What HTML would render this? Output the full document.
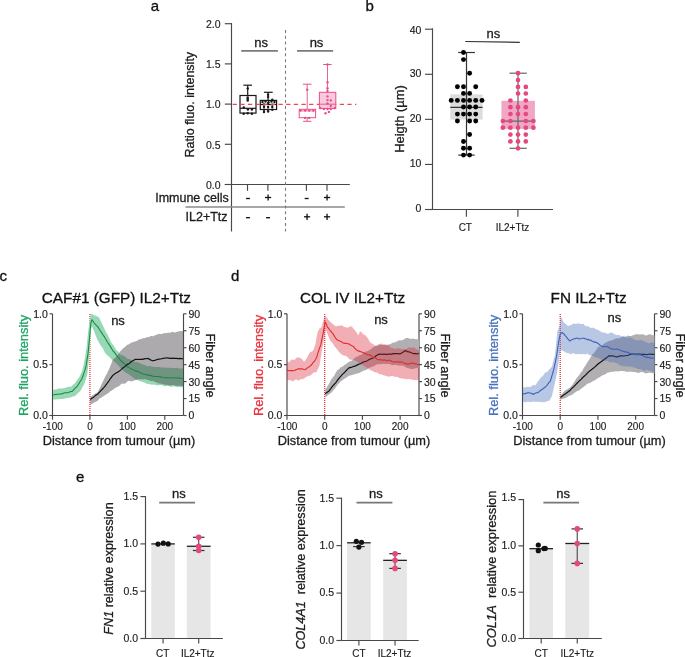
<!DOCTYPE html>
<html><head><meta charset="utf-8"><style>
html,body{margin:0;padding:0;background:#fff;overflow:hidden;}
svg{display:block;font-family:"Liberation Sans", sans-serif;will-change:transform;}
text{white-space:pre;}
</style></head><body>
<svg width="685" height="657" viewBox="0 0 685 657">
<rect width="685" height="657" fill="#fff"/>
<text x="150.80" y="10.80" font-size="15" text-anchor="start" fill="#111" stroke="#111" stroke-width="0.3" >a</text>
<text x="365.60" y="10.90" font-size="15" text-anchor="start" fill="#111" stroke="#111" stroke-width="0.3" >b</text>
<text x="-0.50" y="281.20" font-size="15" text-anchor="start" fill="#111" stroke="#111" stroke-width="0.3" >c</text>
<text x="231.00" y="281.20" font-size="15" text-anchor="start" fill="#111" stroke="#111" stroke-width="0.3" >d</text>
<text x="76.00" y="481.60" font-size="15" text-anchor="start" fill="#111" stroke="#111" stroke-width="0.3" >e</text>
<line x1="231.50" y1="23.00" x2="231.50" y2="231.50" stroke="#484848" stroke-width="1.15" />
<line x1="224.80" y1="23.70" x2="231.50" y2="23.70" stroke="#484848" stroke-width="1.15" />
<text x="220.60" y="28.00" font-size="10.5" text-anchor="end" fill="#1c1c1c" stroke="#1c1c1c" stroke-width="0.15" >2.0</text>
<line x1="224.80" y1="63.90" x2="231.50" y2="63.90" stroke="#484848" stroke-width="1.15" />
<text x="220.60" y="68.20" font-size="10.5" text-anchor="end" fill="#1c1c1c" stroke="#1c1c1c" stroke-width="0.15" >1.5</text>
<line x1="224.80" y1="104.10" x2="231.50" y2="104.10" stroke="#484848" stroke-width="1.15" />
<text x="220.60" y="108.40" font-size="10.5" text-anchor="end" fill="#1c1c1c" stroke="#1c1c1c" stroke-width="0.15" >1.0</text>
<line x1="224.80" y1="144.30" x2="231.50" y2="144.30" stroke="#484848" stroke-width="1.15" />
<text x="220.60" y="148.60" font-size="10.5" text-anchor="end" fill="#1c1c1c" stroke="#1c1c1c" stroke-width="0.15" >0.5</text>
<line x1="224.80" y1="184.50" x2="231.50" y2="184.50" stroke="#484848" stroke-width="1.15" />
<text x="220.60" y="188.80" font-size="10.5" text-anchor="end" fill="#1c1c1c" stroke="#1c1c1c" stroke-width="0.15" >0.0</text>
<text x="194.20" y="104.70" font-size="12.5" text-anchor="middle" fill="#1c1c1c" stroke="#1c1c1c" stroke-width="0.3" transform="rotate(-90 194.2 104.7)" >Ratio fluo. intensity</text>
<line x1="224.80" y1="184.50" x2="349.80" y2="184.50" stroke="#484848" stroke-width="1.15" />
<line x1="247.50" y1="184.50" x2="247.50" y2="190.80" stroke="#484848" stroke-width="1.15" />
<line x1="267.90" y1="184.50" x2="267.90" y2="190.80" stroke="#484848" stroke-width="1.15" />
<line x1="306.40" y1="184.50" x2="306.40" y2="190.80" stroke="#484848" stroke-width="1.15" />
<line x1="327.00" y1="184.50" x2="327.00" y2="190.80" stroke="#484848" stroke-width="1.15" />
<line x1="185.50" y1="207.00" x2="344.80" y2="207.00" stroke="#8a8a8a" stroke-width="1.7" />
<text x="228.80" y="202.00" font-size="12.5" text-anchor="end" fill="#1c1c1c" stroke="#1c1c1c" stroke-width="0.3" >Immune cells</text>
<text x="227.60" y="220.50" font-size="12.5" text-anchor="end" fill="#1c1c1c" stroke="#1c1c1c" stroke-width="0.3" >IL2+Ttz</text>
<line x1="246.05" y1="198.50" x2="249.95" y2="198.50" stroke="#111" stroke-width="1.35" />
<line x1="265.00" y1="197.50" x2="271.20" y2="197.50" stroke="#111" stroke-width="1.3" />
<line x1="268.10" y1="194.40" x2="268.10" y2="200.60" stroke="#111" stroke-width="1.3" />
<line x1="304.70" y1="198.50" x2="308.60" y2="198.50" stroke="#111" stroke-width="1.35" />
<line x1="323.95" y1="197.50" x2="330.15" y2="197.50" stroke="#111" stroke-width="1.3" />
<line x1="327.05" y1="194.40" x2="327.05" y2="200.60" stroke="#111" stroke-width="1.3" />
<line x1="246.05" y1="217.70" x2="249.95" y2="217.70" stroke="#111" stroke-width="1.35" />
<line x1="266.10" y1="217.70" x2="270.00" y2="217.70" stroke="#111" stroke-width="1.35" />
<line x1="303.95" y1="216.80" x2="310.15" y2="216.80" stroke="#111" stroke-width="1.3" />
<line x1="307.05" y1="213.70" x2="307.05" y2="219.90" stroke="#111" stroke-width="1.3" />
<line x1="323.95" y1="216.80" x2="330.15" y2="216.80" stroke="#111" stroke-width="1.3" />
<line x1="327.05" y1="213.70" x2="327.05" y2="219.90" stroke="#111" stroke-width="1.3" />
<line x1="285.50" y1="29.90" x2="285.50" y2="231.50" stroke="#7a7a7a" stroke-width="1.1" stroke-dasharray="3 2.85"/>
<text x="261.10" y="46.90" font-size="13" text-anchor="middle" fill="#1c1c1c" stroke="#1c1c1c" stroke-width="0.3" >ns</text>
<text x="316.50" y="46.90" font-size="13" text-anchor="middle" fill="#1c1c1c" stroke="#1c1c1c" stroke-width="0.3" >ns</text>
<line x1="241.20" y1="50.80" x2="277.90" y2="50.80" stroke="#7a7a7a" stroke-width="1.8" />
<line x1="297.00" y1="50.80" x2="333.10" y2="50.80" stroke="#7a7a7a" stroke-width="1.8" />
<line x1="247.70" y1="85.20" x2="247.70" y2="95.50" stroke="#1a1a1a" stroke-width="1.2" />
<line x1="243.40" y1="85.20" x2="252.00" y2="85.20" stroke="#1a1a1a" stroke-width="1.2" />
<rect x="240.00" y="95.50" width="16.00" height="17.60" fill="none" stroke="#1a1a1a" stroke-width="1.2" />
<line x1="240.00" y1="108.30" x2="256.00" y2="108.30" stroke="#1a1a1a" stroke-width="1.2" />
<circle cx="247.70" cy="88.40" r="1.25" fill="#1a1a1a"/>
<circle cx="247.70" cy="97.40" r="1.25" fill="#1a1a1a"/>
<circle cx="247.70" cy="98.90" r="1.25" fill="#1a1a1a"/>
<circle cx="247.70" cy="100.60" r="1.25" fill="#1a1a1a"/>
<circle cx="243.80" cy="107.40" r="1.25" fill="#1a1a1a"/>
<circle cx="247.90" cy="109.40" r="1.25" fill="#1a1a1a"/>
<circle cx="251.90" cy="109.40" r="1.25" fill="#1a1a1a"/>
<circle cx="243.70" cy="113.80" r="1.25" fill="#1a1a1a"/>
<circle cx="247.70" cy="113.30" r="1.25" fill="#1a1a1a"/>
<circle cx="251.90" cy="113.80" r="1.25" fill="#1a1a1a"/>
<line x1="268.10" y1="92.30" x2="268.10" y2="100.40" stroke="#1a1a1a" stroke-width="1.2" />
<line x1="263.90" y1="92.30" x2="272.70" y2="92.30" stroke="#1a1a1a" stroke-width="1.2" />
<rect x="260.30" y="100.40" width="16.30" height="9.10" fill="none" stroke="#1a1a1a" stroke-width="1.2" />
<line x1="260.30" y1="104.50" x2="276.60" y2="104.50" stroke="#1a1a1a" stroke-width="1.2" />
<circle cx="268.10" cy="94.80" r="1.2" fill="#1a1a1a"/>
<circle cx="268.10" cy="97.10" r="1.2" fill="#1a1a1a"/>
<circle cx="272.30" cy="99.70" r="1.2" fill="#1a1a1a"/>
<circle cx="262.50" cy="102.00" r="1.2" fill="#1a1a1a"/>
<circle cx="265.50" cy="101.60" r="1.2" fill="#1a1a1a"/>
<circle cx="268.50" cy="102.30" r="1.2" fill="#1a1a1a"/>
<circle cx="271.50" cy="101.60" r="1.2" fill="#1a1a1a"/>
<circle cx="274.50" cy="102.00" r="1.2" fill="#1a1a1a"/>
<circle cx="264.00" cy="104.50" r="1.2" fill="#1a1a1a"/>
<circle cx="268.10" cy="104.00" r="1.2" fill="#1a1a1a"/>
<circle cx="272.30" cy="104.60" r="1.2" fill="#1a1a1a"/>
<circle cx="264.00" cy="107.00" r="1.2" fill="#1a1a1a"/>
<circle cx="268.10" cy="107.00" r="1.2" fill="#1a1a1a"/>
<circle cx="272.30" cy="107.00" r="1.2" fill="#1a1a1a"/>
<circle cx="264.00" cy="109.80" r="1.2" fill="#1a1a1a"/>
<circle cx="268.10" cy="109.80" r="1.2" fill="#1a1a1a"/>
<circle cx="272.30" cy="109.80" r="1.2" fill="#1a1a1a"/>
<circle cx="264.00" cy="112.00" r="1.2" fill="#1a1a1a"/>
<circle cx="268.10" cy="111.60" r="1.2" fill="#1a1a1a"/>
<line x1="232.60" y1="104.30" x2="356.30" y2="104.30" stroke="#ec4a5a" stroke-width="1.25" stroke-dasharray="4.3 3.35"/>
<line x1="307.20" y1="84.20" x2="307.20" y2="109.30" stroke="#e8508a" stroke-width="0.9" />
<line x1="302.90" y1="84.20" x2="311.50" y2="84.20" stroke="#e8508a" stroke-width="1.0" />
<line x1="307.20" y1="117.70" x2="307.20" y2="121.30" stroke="#e8508a" stroke-width="0.9" />
<line x1="303.10" y1="121.30" x2="311.30" y2="121.30" stroke="#e8508a" stroke-width="1.0" />
<rect x="299.20" y="109.30" width="16.40" height="8.40" fill="none" stroke="#e8508a" stroke-width="1.0" />
<line x1="299.20" y1="110.90" x2="315.60" y2="110.90" stroke="#e8508a" stroke-width="0.8" />
<circle cx="307.20" cy="89.70" r="1.2" fill="#e8508a"/>
<circle cx="300.50" cy="110.60" r="1.2" fill="#e8508a"/>
<circle cx="305.10" cy="110.60" r="1.2" fill="#e8508a"/>
<circle cx="309.20" cy="110.60" r="1.2" fill="#e8508a"/>
<circle cx="313.30" cy="110.60" r="1.2" fill="#e8508a"/>
<circle cx="305.10" cy="117.90" r="1.2" fill="#e8508a"/>
<circle cx="309.20" cy="117.90" r="1.2" fill="#e8508a"/>
<rect x="319.40" y="92.30" width="16.40" height="16.20" fill="#f9cadd" stroke="#e8508a" stroke-width="1.0" />
<line x1="327.50" y1="64.50" x2="327.50" y2="92.30" stroke="#e8508a" stroke-width="0.9" />
<line x1="323.20" y1="64.50" x2="331.60" y2="64.50" stroke="#e8508a" stroke-width="1.0" />
<line x1="319.40" y1="104.20" x2="335.80" y2="104.20" stroke="#e8508a" stroke-width="0.9" />
<circle cx="327.50" cy="64.50" r="1.2" fill="#e8508a"/>
<circle cx="327.50" cy="82.30" r="1.2" fill="#e8508a"/>
<circle cx="327.50" cy="88.20" r="1.2" fill="#e8508a"/>
<circle cx="327.50" cy="90.90" r="1.2" fill="#e8508a"/>
<circle cx="327.50" cy="96.40" r="1.2" fill="#e8508a"/>
<circle cx="327.50" cy="100.10" r="1.2" fill="#e8508a"/>
<circle cx="330.80" cy="100.40" r="1.2" fill="#e8508a"/>
<circle cx="327.50" cy="103.50" r="1.2" fill="#e8508a"/>
<circle cx="330.80" cy="106.00" r="1.2" fill="#e8508a"/>
<circle cx="320.20" cy="108.00" r="1.2" fill="#e8508a"/>
<circle cx="323.90" cy="109.00" r="1.2" fill="#e8508a"/>
<circle cx="327.50" cy="109.00" r="1.2" fill="#e8508a"/>
<circle cx="330.80" cy="109.00" r="1.2" fill="#e8508a"/>
<circle cx="334.80" cy="108.00" r="1.2" fill="#e8508a"/>
<circle cx="325.50" cy="113.20" r="1.2" fill="#e8508a"/>
<circle cx="328.90" cy="111.90" r="1.2" fill="#e8508a"/>
<line x1="432.50" y1="28.30" x2="432.50" y2="209.50" stroke="#484848" stroke-width="1.15" />
<line x1="425.00" y1="29.20" x2="432.50" y2="29.20" stroke="#484848" stroke-width="1.15" />
<text x="421.40" y="33.60" font-size="10.5" text-anchor="end" fill="#1c1c1c" stroke="#1c1c1c" stroke-width="0.15" >40</text>
<line x1="425.00" y1="74.27" x2="432.50" y2="74.27" stroke="#484848" stroke-width="1.15" />
<text x="421.40" y="77.00" font-size="10.5" text-anchor="end" fill="#1c1c1c" stroke="#1c1c1c" stroke-width="0.15" >30</text>
<line x1="425.00" y1="119.35" x2="432.50" y2="119.35" stroke="#484848" stroke-width="1.15" />
<text x="421.40" y="121.80" font-size="10.5" text-anchor="end" fill="#1c1c1c" stroke="#1c1c1c" stroke-width="0.15" >20</text>
<line x1="425.00" y1="164.43" x2="432.50" y2="164.43" stroke="#484848" stroke-width="1.15" />
<text x="421.40" y="167.20" font-size="10.5" text-anchor="end" fill="#1c1c1c" stroke="#1c1c1c" stroke-width="0.15" >10</text>
<line x1="425.00" y1="209.50" x2="432.50" y2="209.50" stroke="#484848" stroke-width="1.15" />
<text x="421.40" y="212.20" font-size="10.5" text-anchor="end" fill="#1c1c1c" stroke="#1c1c1c" stroke-width="0.15" >0</text>
<line x1="425.00" y1="209.50" x2="553.00" y2="209.50" stroke="#484848" stroke-width="1.15" />
<line x1="466.40" y1="209.50" x2="466.40" y2="216.80" stroke="#484848" stroke-width="1.15" />
<line x1="517.90" y1="209.50" x2="517.90" y2="216.80" stroke="#484848" stroke-width="1.15" />
<text x="465.30" y="230.70" font-size="10" text-anchor="middle" fill="#1c1c1c" stroke="#1c1c1c" stroke-width="0.15" >CT</text>
<text x="512.50" y="230.70" font-size="10" text-anchor="middle" fill="#1c1c1c" stroke="#1c1c1c" stroke-width="0.15" >IL2+Ttz</text>
<text x="403.70" y="119.00" font-size="12.9" text-anchor="middle" fill="#1c1c1c" stroke="#1c1c1c" stroke-width="0.3" transform="rotate(-90 403.7 119.0)" >Heigth (µm)</text>
<text x="493.30" y="37.50" font-size="13" text-anchor="middle" fill="#1c1c1c" stroke="#1c1c1c" stroke-width="0.3" >ns</text>
<line x1="465.30" y1="41.50" x2="519.80" y2="42.30" stroke="#333" stroke-width="1.2" />
<rect x="450.30" y="94.40" width="32.30" height="25.20" fill="#dcdcdc" stroke="none" stroke-width="1.2" />
<line x1="466.50" y1="52.50" x2="466.50" y2="155.10" stroke="#333" stroke-width="1.2" />
<line x1="458.20" y1="52.50" x2="474.90" y2="52.50" stroke="#333" stroke-width="1.2" />
<line x1="458.30" y1="155.10" x2="474.70" y2="155.10" stroke="#333" stroke-width="1.2" />
<line x1="450.30" y1="107.30" x2="482.60" y2="107.30" stroke="#333" stroke-width="1.3" />
<circle cx="463.50" cy="52.50" r="2.45" fill="#000"/>
<circle cx="463.50" cy="59.60" r="2.45" fill="#000"/>
<circle cx="469.60" cy="73.20" r="2.45" fill="#000"/>
<circle cx="457.40" cy="86.70" r="2.45" fill="#000"/>
<circle cx="463.50" cy="86.70" r="2.45" fill="#000"/>
<circle cx="475.70" cy="86.70" r="2.45" fill="#000"/>
<circle cx="463.50" cy="93.40" r="2.45" fill="#000"/>
<circle cx="469.60" cy="93.40" r="2.45" fill="#000"/>
<circle cx="451.20" cy="100.40" r="2.45" fill="#000"/>
<circle cx="457.40" cy="100.40" r="2.45" fill="#000"/>
<circle cx="463.50" cy="100.40" r="2.45" fill="#000"/>
<circle cx="469.60" cy="100.40" r="2.45" fill="#000"/>
<circle cx="475.70" cy="100.40" r="2.45" fill="#000"/>
<circle cx="482.00" cy="100.40" r="2.45" fill="#000"/>
<circle cx="463.50" cy="107.00" r="2.45" fill="#000"/>
<circle cx="469.60" cy="107.00" r="2.45" fill="#000"/>
<circle cx="475.70" cy="107.00" r="2.45" fill="#000"/>
<circle cx="457.40" cy="114.10" r="2.45" fill="#000"/>
<circle cx="463.50" cy="114.10" r="2.45" fill="#000"/>
<circle cx="469.60" cy="114.10" r="2.45" fill="#000"/>
<circle cx="475.70" cy="114.10" r="2.45" fill="#000"/>
<circle cx="457.40" cy="121.00" r="2.45" fill="#000"/>
<circle cx="469.60" cy="121.00" r="2.45" fill="#000"/>
<circle cx="475.70" cy="121.00" r="2.45" fill="#000"/>
<circle cx="469.60" cy="134.50" r="2.45" fill="#000"/>
<circle cx="463.50" cy="141.50" r="2.45" fill="#000"/>
<circle cx="463.50" cy="148.20" r="2.45" fill="#000"/>
<circle cx="469.60" cy="148.20" r="2.45" fill="#000"/>
<circle cx="463.50" cy="155.10" r="2.45" fill="#000"/>
<circle cx="469.60" cy="155.10" r="2.45" fill="#000"/>
<rect x="501.40" y="100.80" width="33.50" height="28.10" fill="#f0a6c4" stroke="none" stroke-width="1.2" />
<line x1="518.00" y1="73.20" x2="518.00" y2="148.30" stroke="#666" stroke-width="1.2" />
<line x1="509.50" y1="73.20" x2="526.80" y2="73.20" stroke="#666" stroke-width="1.2" />
<line x1="509.50" y1="148.30" x2="526.80" y2="148.30" stroke="#666" stroke-width="1.2" />
<line x1="501.40" y1="121.20" x2="534.90" y2="121.20" stroke="#666" stroke-width="1.3" />
<circle cx="518.00" cy="73.20" r="2.35" fill="#e5487f"/>
<circle cx="518.00" cy="80.10" r="2.35" fill="#e5487f"/>
<circle cx="518.00" cy="86.90" r="2.35" fill="#e5487f"/>
<circle cx="525.80" cy="86.90" r="2.35" fill="#e5487f"/>
<circle cx="518.00" cy="93.50" r="2.35" fill="#e5487f"/>
<circle cx="525.80" cy="93.50" r="2.35" fill="#e5487f"/>
<circle cx="510.40" cy="100.50" r="2.35" fill="#e5487f"/>
<circle cx="525.80" cy="100.50" r="2.35" fill="#e5487f"/>
<circle cx="510.40" cy="107.20" r="2.35" fill="#e5487f"/>
<circle cx="518.00" cy="107.20" r="2.35" fill="#e5487f"/>
<circle cx="525.80" cy="107.20" r="2.35" fill="#e5487f"/>
<circle cx="510.40" cy="114.00" r="2.35" fill="#e5487f"/>
<circle cx="518.00" cy="114.00" r="2.35" fill="#e5487f"/>
<circle cx="525.80" cy="114.00" r="2.35" fill="#e5487f"/>
<circle cx="502.90" cy="121.00" r="2.35" fill="#e5487f"/>
<circle cx="510.40" cy="121.00" r="2.35" fill="#e5487f"/>
<circle cx="525.80" cy="121.00" r="2.35" fill="#e5487f"/>
<circle cx="533.40" cy="121.00" r="2.35" fill="#e5487f"/>
<circle cx="502.90" cy="127.70" r="2.35" fill="#e5487f"/>
<circle cx="510.40" cy="127.70" r="2.35" fill="#e5487f"/>
<circle cx="518.00" cy="127.70" r="2.35" fill="#e5487f"/>
<circle cx="525.80" cy="127.70" r="2.35" fill="#e5487f"/>
<circle cx="533.40" cy="127.70" r="2.35" fill="#e5487f"/>
<circle cx="510.40" cy="134.60" r="2.35" fill="#e5487f"/>
<circle cx="518.00" cy="134.60" r="2.35" fill="#e5487f"/>
<circle cx="525.80" cy="134.60" r="2.35" fill="#e5487f"/>
<circle cx="510.40" cy="141.40" r="2.35" fill="#e5487f"/>
<circle cx="518.00" cy="141.40" r="2.35" fill="#e5487f"/>
<circle cx="525.80" cy="141.40" r="2.35" fill="#e5487f"/>
<circle cx="518.00" cy="148.30" r="2.35" fill="#e5487f"/>
<text x="116.40" y="303.10" font-size="15.3" text-anchor="middle" fill="#111" stroke="#111" stroke-width="0.3" >CAF#1 (GFP) IL2+Ttz</text>
<line x1="52.50" y1="313.80" x2="52.50" y2="415.50" stroke="#484848" stroke-width="1.15" />
<line x1="183.50" y1="313.80" x2="183.50" y2="415.50" stroke="#484848" stroke-width="1.15" />
<line x1="49.50" y1="415.50" x2="183.50" y2="415.50" stroke="#484848" stroke-width="1.15" />
<line x1="49.50" y1="313.80" x2="52.50" y2="313.80" stroke="#484848" stroke-width="1.15" />
<text x="47.90" y="317.50" font-size="10.5" text-anchor="end" fill="#1c1c1c" stroke="#1c1c1c" stroke-width="0.15" >1.0</text>
<line x1="49.50" y1="364.65" x2="52.50" y2="364.65" stroke="#484848" stroke-width="1.15" />
<text x="47.90" y="368.35" font-size="10.5" text-anchor="end" fill="#1c1c1c" stroke="#1c1c1c" stroke-width="0.15" >0.5</text>
<line x1="49.50" y1="415.50" x2="52.50" y2="415.50" stroke="#484848" stroke-width="1.15" />
<text x="47.90" y="419.20" font-size="10.5" text-anchor="end" fill="#1c1c1c" stroke="#1c1c1c" stroke-width="0.15" >0.0</text>
<line x1="183.50" y1="415.50" x2="186.50" y2="415.50" stroke="#484848" stroke-width="1.15" />
<text x="188.40" y="419.40" font-size="10.5" text-anchor="start" fill="#1c1c1c" stroke="#1c1c1c" stroke-width="0.15" >0</text>
<line x1="183.50" y1="398.55" x2="186.50" y2="398.55" stroke="#484848" stroke-width="1.15" />
<text x="188.40" y="402.45" font-size="10.5" text-anchor="start" fill="#1c1c1c" stroke="#1c1c1c" stroke-width="0.15" >15</text>
<line x1="183.50" y1="381.60" x2="186.50" y2="381.60" stroke="#484848" stroke-width="1.15" />
<text x="188.40" y="385.50" font-size="10.5" text-anchor="start" fill="#1c1c1c" stroke="#1c1c1c" stroke-width="0.15" >30</text>
<line x1="183.50" y1="364.65" x2="186.50" y2="364.65" stroke="#484848" stroke-width="1.15" />
<text x="188.40" y="368.55" font-size="10.5" text-anchor="start" fill="#1c1c1c" stroke="#1c1c1c" stroke-width="0.15" >45</text>
<line x1="183.50" y1="347.70" x2="186.50" y2="347.70" stroke="#484848" stroke-width="1.15" />
<text x="188.40" y="351.60" font-size="10.5" text-anchor="start" fill="#1c1c1c" stroke="#1c1c1c" stroke-width="0.15" >60</text>
<line x1="183.50" y1="330.75" x2="186.50" y2="330.75" stroke="#484848" stroke-width="1.15" />
<text x="188.40" y="334.65" font-size="10.5" text-anchor="start" fill="#1c1c1c" stroke="#1c1c1c" stroke-width="0.15" >75</text>
<line x1="183.50" y1="313.80" x2="186.50" y2="313.80" stroke="#484848" stroke-width="1.15" />
<text x="188.40" y="317.70" font-size="10.5" text-anchor="start" fill="#1c1c1c" stroke="#1c1c1c" stroke-width="0.15" >90</text>
<line x1="52.50" y1="415.50" x2="52.50" y2="419.70" stroke="#484848" stroke-width="1.15" />
<text x="52.80" y="429.60" font-size="10" text-anchor="middle" fill="#1c1c1c" stroke="#1c1c1c" stroke-width="0.15" >-100</text>
<line x1="89.93" y1="415.50" x2="89.93" y2="419.70" stroke="#484848" stroke-width="1.15" />
<text x="89.93" y="429.60" font-size="10" text-anchor="middle" fill="#1c1c1c" stroke="#1c1c1c" stroke-width="0.15" >0</text>
<line x1="127.36" y1="415.50" x2="127.36" y2="419.70" stroke="#484848" stroke-width="1.15" />
<text x="127.36" y="429.60" font-size="10" text-anchor="middle" fill="#1c1c1c" stroke="#1c1c1c" stroke-width="0.15" >100</text>
<line x1="164.79" y1="415.50" x2="164.79" y2="419.70" stroke="#484848" stroke-width="1.15" />
<text x="164.79" y="429.60" font-size="10" text-anchor="middle" fill="#1c1c1c" stroke="#1c1c1c" stroke-width="0.15" >200</text>
<text x="119.00" y="445.20" font-size="12.8" text-anchor="middle" fill="#1c1c1c" stroke="#1c1c1c" stroke-width="0.3" >Distance from tumour (µm)</text>
<text x="28.50" y="365.40" font-size="12.85" text-anchor="middle" fill="#1fa463" stroke="#1fa463" stroke-width="0.3" transform="rotate(-90 28.5 365.4)" >Rel. fluo. intensity</text>
<text x="205.60" y="365.55" font-size="12.8" text-anchor="middle" fill="#1c1c1c" stroke="#1c1c1c" stroke-width="0.3" transform="rotate(90 205.6 365.55)" >Fiber angle</text>
<line x1="89.93" y1="314.00" x2="89.93" y2="415.50" stroke="#ee1c28" stroke-width="1.15" stroke-dasharray="1 1"/>
<path d="M53.00,389.90 L54.02,389.54 L55.04,389.58 L56.07,389.45 L57.09,389.12 L58.11,388.63 L59.13,388.58 L60.16,388.52 L61.18,388.47 L62.20,388.39 L63.21,388.25 L64.22,388.33 L65.23,387.79 L66.24,387.63 L67.26,386.99 L68.27,386.83 L69.28,386.70 L70.29,386.64 L71.30,386.45 L72.25,385.59 L73.20,384.59 L74.15,383.85 L75.10,383.05 L76.05,381.83 L77.00,380.08 L77.95,378.88 L78.90,377.63 L79.93,375.74 L80.97,373.48 L82.00,371.35 L83.10,366.91 L84.20,362.09 L85.35,355.24 L86.50,348.08 L87.25,340.77 L88.00,333.22 L89.30,322.43 L90.30,315.89 L91.10,314.37 L91.90,313.70 L92.93,314.41 L93.96,315.18 L94.99,315.35 L96.01,315.94 L97.04,316.35 L98.07,316.92 L99.10,317.50 L100.12,319.64 L101.13,321.98 L102.15,324.07 L103.17,326.29 L104.18,328.30 L105.20,330.50 L106.22,332.39 L107.23,334.05 L108.25,336.01 L109.27,338.20 L110.28,340.64 L111.30,342.51 L112.36,344.04 L113.42,345.32 L114.48,347.12 L115.54,348.70 L116.60,350.40 L117.57,350.96 L118.55,352.09 L119.53,353.45 L120.50,354.44 L121.44,354.97 L122.38,355.22 L123.31,355.81 L124.25,356.10 L125.19,356.86 L126.12,357.81 L127.06,358.24 L128.00,358.72 L128.96,358.65 L129.93,359.41 L130.89,359.64 L131.85,360.49 L132.81,361.02 L133.77,361.50 L134.74,361.95 L135.70,361.97 L136.65,362.11 L137.60,362.27 L138.55,362.49 L139.50,362.93 L140.45,363.20 L141.40,363.89 L142.35,364.25 L143.30,364.42 L144.25,364.75 L145.20,365.02 L146.15,365.71 L147.10,365.92 L148.05,366.14 L149.00,366.05 L149.95,366.03 L150.90,366.37 L151.85,366.54 L152.80,366.66 L153.75,366.75 L154.70,367.04 L155.65,367.11 L156.60,367.11 L157.55,367.09 L158.50,367.04 L159.45,367.07 L160.40,367.31 L161.35,367.56 L162.30,367.80 L163.25,367.37 L164.20,367.41 L165.15,367.53 L166.10,367.63 L167.05,367.74 L168.00,367.77 L168.95,367.79 L169.90,367.80 L170.85,367.71 L171.80,368.05 L172.75,367.90 L173.70,368.03 L174.73,368.14 L175.77,368.04 L176.80,367.76 L177.83,367.80 L178.87,368.40 L179.90,368.58 L180.93,368.54 L181.97,368.41 L183.00,368.60 L183.00,387.60 L181.97,387.34 L180.93,386.98 L179.90,386.91 L178.87,387.12 L177.83,387.29 L176.80,387.08 L175.77,386.79 L174.73,386.52 L173.70,386.57 L172.75,386.61 L171.80,386.75 L170.85,386.65 L169.90,386.40 L168.95,386.12 L168.00,386.10 L167.05,385.88 L166.10,386.07 L165.15,386.23 L164.20,386.14 L163.25,385.66 L162.30,385.12 L161.35,385.03 L160.40,384.88 L159.45,385.13 L158.50,385.27 L157.55,385.39 L156.60,385.16 L155.65,384.95 L154.70,384.77 L153.75,384.42 L152.80,384.63 L151.85,384.72 L150.90,384.60 L149.95,384.29 L149.00,384.10 L148.05,384.30 L147.10,383.99 L146.15,383.37 L145.20,383.02 L144.25,382.60 L143.30,382.33 L142.35,381.70 L141.40,381.46 L140.45,381.23 L139.50,381.13 L138.55,380.47 L137.60,380.03 L136.65,379.52 L135.70,379.51 L134.74,378.88 L133.77,378.18 L132.81,377.37 L131.85,376.64 L130.89,375.79 L129.93,375.17 L128.96,374.36 L128.00,373.91 L127.06,373.23 L126.12,372.94 L125.19,372.36 L124.25,371.49 L123.31,370.73 L122.38,369.50 L121.44,368.80 L120.50,367.71 L119.54,367.04 L118.58,365.68 L117.61,364.69 L116.65,363.59 L115.69,362.75 L114.72,361.94 L113.76,361.15 L112.80,360.48 L111.85,359.65 L110.90,358.46 L109.95,357.56 L109.00,356.72 L108.05,355.88 L107.10,354.96 L106.15,353.98 L105.20,353.30 L104.25,351.26 L103.30,349.36 L102.35,347.84 L101.40,346.54 L100.45,345.17 L99.50,343.39 L98.55,341.84 L97.60,340.25 L96.65,338.04 L95.70,335.59 L94.75,333.10 L93.80,330.44 L92.85,328.30 L91.90,326.16 L91.10,328.70 L90.30,340.52 L89.30,355.58 L88.30,364.69 L87.30,374.07 L86.27,377.65 L85.23,381.05 L84.20,384.25 L83.25,385.79 L82.30,387.28 L81.35,389.21 L80.40,390.96 L79.28,392.02 L78.15,392.77 L77.03,394.00 L75.90,395.18 L74.98,395.99 L74.06,396.18 L73.14,396.57 L72.22,396.65 L71.30,397.30 L70.29,397.53 L69.28,397.74 L68.27,397.66 L67.26,398.02 L66.24,398.21 L65.23,398.41 L64.22,398.54 L63.21,398.89 L62.20,398.91 L61.18,399.02 L60.16,399.01 L59.13,399.24 L58.11,399.23 L57.09,399.32 L56.07,399.41 L55.04,399.38 L54.02,399.44 L53.00,399.80" fill="#97d8b5" stroke="none" stroke-width="1" stroke-linejoin="round" />
<path d="M90.30,396.50 L91.34,396.25 L92.39,395.51 L93.43,394.94 L94.47,393.99 L95.51,393.27 L96.56,392.87 L97.60,392.29 L98.55,390.55 L99.50,388.46 L100.45,386.42 L101.40,384.40 L102.35,382.68 L103.30,380.64 L104.25,378.66 L105.20,376.54 L106.15,375.08 L107.10,373.39 L108.05,371.25 L109.00,369.16 L109.95,366.95 L110.90,364.76 L111.85,362.31 L112.80,359.69 L113.76,358.98 L114.72,358.00 L115.69,357.47 L116.65,356.32 L117.61,355.18 L118.58,353.92 L119.54,352.61 L120.50,351.02 L121.44,350.14 L122.38,348.94 L123.31,348.21 L124.25,347.59 L125.19,346.86 L126.12,346.06 L127.06,344.76 L128.00,344.66 L128.96,344.17 L129.93,343.55 L130.89,342.95 L131.85,342.34 L132.81,342.43 L133.77,341.73 L134.74,341.74 L135.70,341.26 L136.65,340.90 L137.60,340.58 L138.55,339.57 L139.50,339.43 L140.45,338.92 L141.40,339.17 L142.35,338.36 L143.30,338.26 L144.25,338.23 L145.20,337.99 L146.15,337.46 L147.10,336.96 L148.05,337.37 L149.00,337.11 L149.95,336.60 L150.90,335.95 L151.85,335.97 L152.80,336.14 L153.75,335.98 L154.70,335.51 L155.65,334.95 L156.60,334.65 L157.55,334.41 L158.50,333.89 L159.45,333.81 L160.40,334.04 L161.35,334.11 L162.30,334.10 L163.25,333.26 L164.20,333.28 L165.15,333.09 L166.10,333.29 L167.05,333.07 L168.00,332.76 L168.95,332.65 L169.90,332.86 L170.85,332.51 L171.80,331.99 L172.75,331.79 L173.70,332.31 L174.73,332.55 L175.77,332.22 L176.80,331.98 L177.83,331.62 L178.87,331.40 L179.90,330.90 L180.93,331.12 L181.97,331.07 L183.00,331.30 L183.00,386.10 L181.97,386.16 L180.93,385.91 L179.90,385.84 L178.87,385.71 L177.83,385.66 L176.80,385.96 L175.77,385.73 L174.73,385.52 L173.70,385.02 L172.75,385.05 L171.80,385.07 L170.85,385.57 L169.90,385.63 L168.95,385.24 L168.00,385.03 L167.05,384.86 L166.10,385.05 L165.15,384.50 L164.20,384.39 L163.25,384.27 L162.30,384.14 L161.35,384.08 L160.40,383.41 L159.45,383.60 L158.50,383.38 L157.55,383.10 L156.60,382.64 L155.65,381.92 L154.70,381.64 L153.75,381.27 L152.80,381.06 L151.85,381.36 L150.90,381.10 L149.95,380.79 L149.00,380.27 L148.05,379.98 L147.10,379.88 L146.15,379.35 L145.20,379.33 L144.25,379.32 L143.30,379.38 L142.35,379.20 L141.40,379.46 L140.45,379.36 L139.50,379.31 L138.55,379.32 L137.60,379.64 L136.65,379.89 L135.70,380.07 L134.74,380.15 L133.77,380.77 L132.81,380.96 L131.85,381.48 L130.89,381.18 L129.93,380.95 L128.96,380.79 L128.00,381.03 L127.06,381.82 L126.12,382.74 L125.19,383.42 L124.25,383.70 L123.31,383.57 L122.38,383.63 L121.44,383.82 L120.50,384.71 L119.54,385.64 L118.58,386.17 L117.61,386.67 L116.65,387.24 L115.69,387.87 L114.72,388.23 L113.76,388.88 L112.80,389.70 L111.85,390.40 L110.90,391.01 L109.95,391.52 L109.00,392.65 L108.05,393.09 L107.10,394.06 L106.15,394.35 L105.20,395.27 L104.25,395.51 L103.30,396.21 L102.35,396.96 L101.40,397.52 L100.45,398.06 L99.50,398.58 L98.55,399.63 L97.60,400.74 L96.56,401.39 L95.51,402.02 L94.47,402.17 L93.43,403.09 L92.39,403.63 L91.34,404.12 L90.30,404.40" fill="rgba(66,62,66,0.44)" stroke="none" stroke-width="1" stroke-linejoin="round" />
<path d="M53.00,394.90 L54.02,394.83 L55.04,394.54 L56.07,394.47 L57.09,394.27 L58.11,394.28 L59.13,394.22 L60.16,394.06 L61.18,393.88 L62.20,393.67 L63.19,393.30 L64.18,392.94 L65.17,392.84 L66.16,392.79 L67.15,392.71 L68.14,392.49 L69.13,392.13 L70.12,391.82 L71.11,391.48 L72.10,391.41 L73.16,390.28 L74.22,389.25 L75.28,388.00 L76.34,387.17 L77.40,386.06 L78.32,384.57 L79.24,382.93 L80.16,381.47 L81.08,380.09 L82.00,378.55 L82.95,375.97 L83.90,373.09 L84.85,370.39 L85.80,367.48 L86.90,360.63 L88.00,353.94 L88.80,345.79 L89.60,337.46 L90.80,323.57 L91.90,319.68 L92.85,320.99 L93.80,322.32 L94.75,323.55 L95.70,324.64 L96.65,325.56 L97.60,326.59 L98.55,327.90 L99.50,329.46 L100.45,330.95 L101.40,332.39 L102.35,333.74 L103.30,335.24 L104.25,336.62 L105.20,338.24 L106.15,339.78 L107.10,341.59 L108.05,342.97 L109.00,344.37 L109.95,345.77 L110.90,347.36 L111.85,349.01 L112.80,350.55 L113.76,351.68 L114.72,352.88 L115.69,354.06 L116.65,355.39 L117.61,356.59 L118.58,357.67 L119.54,358.96 L120.50,360.18 L121.44,361.20 L122.38,361.98 L123.31,362.78 L124.25,363.55 L125.19,364.41 L126.12,365.14 L127.06,366.10 L128.00,367.00 L128.96,367.60 L129.93,368.10 L130.89,368.67 L131.85,369.29 L132.81,369.63 L133.77,370.05 L134.74,370.44 L135.70,370.89 L136.65,371.13 L137.60,371.38 L138.55,371.76 L139.50,372.20 L140.45,372.79 L141.40,373.24 L142.35,373.72 L143.30,374.02 L144.25,374.16 L145.20,374.36 L146.15,374.53 L147.10,374.98 L148.05,375.13 L149.00,375.38 L149.95,375.39 L150.90,375.62 L151.85,375.87 L152.80,376.22 L153.75,376.29 L154.70,376.42 L155.65,376.49 L156.60,376.58 L157.55,376.54 L158.50,376.60 L159.45,376.73 L160.40,376.87 L161.35,377.10 L162.30,377.36 L163.25,377.57 L164.20,377.65 L165.15,377.73 L166.10,377.76 L167.05,377.77 L168.00,377.81 L168.95,377.84 L169.90,377.75 L170.85,377.79 L171.80,377.89 L172.75,377.95 L173.70,377.79 L174.73,377.80 L175.77,377.95 L176.80,377.99 L177.83,377.90 L178.87,377.85 L179.90,378.11 L180.93,378.23 L181.97,378.39 L183.00,378.50" fill="none" stroke="#17883f" stroke-width="1.05" stroke-linejoin="round" />
<path d="M90.30,399.60 L91.34,398.57 L92.39,397.91 L93.43,397.17 L94.47,396.39 L95.51,395.57 L96.56,394.84 L97.60,394.26 L98.55,393.19 L99.50,392.10 L100.45,391.03 L101.40,390.10 L102.35,389.27 L103.30,388.09 L104.25,387.04 L105.20,385.89 L106.15,384.55 L107.10,383.41 L108.05,382.03 L109.00,380.73 L109.95,379.24 L110.90,377.90 L111.85,376.75 L112.80,375.38 L113.76,374.69 L114.72,373.83 L115.69,373.28 L116.65,372.65 L117.61,372.22 L118.58,371.46 L119.54,371.00 L120.50,370.17 L121.44,369.33 L122.38,368.35 L123.31,367.76 L124.25,367.12 L125.19,366.38 L126.12,365.38 L127.06,364.64 L128.00,364.08 L128.96,363.68 L129.93,362.90 L130.89,362.03 L131.85,361.30 L132.81,360.79 L133.77,360.23 L134.74,359.66 L135.70,359.25 L136.65,359.47 L137.60,359.46 L138.55,359.50 L139.50,359.30 L140.45,359.43 L141.40,359.35 L142.35,359.44 L143.30,359.13 L144.22,358.81 L145.14,358.58 L146.06,358.76 L146.98,358.57 L147.90,358.34 L149.03,358.96 L150.15,359.62 L151.28,360.30 L152.40,360.78 L153.42,360.64 L154.43,360.48 L155.45,360.09 L156.47,359.78 L157.48,359.38 L158.50,359.26 L159.45,359.08 L160.40,359.02 L161.35,358.74 L162.30,358.57 L163.25,358.21 L164.20,358.23 L165.15,358.12 L166.10,358.01 L167.05,357.86 L168.00,357.99 L168.95,358.15 L169.90,358.38 L170.85,358.32 L171.80,358.33 L172.75,358.20 L173.70,358.35 L174.73,358.23 L175.77,358.37 L176.80,358.42 L177.83,358.67 L178.87,358.58 L179.90,358.44 L180.93,358.53 L181.97,358.74 L183.00,358.70" fill="none" stroke="#111" stroke-width="1.2" stroke-linejoin="round" />
<text x="118.00" y="325.20" font-size="13" text-anchor="middle" fill="#1c1c1c" stroke="#1c1c1c" stroke-width="0.3" >ns</text>
<text x="352.60" y="303.10" font-size="15.3" text-anchor="middle" fill="#111" stroke="#111" stroke-width="0.3" >COL IV IL2+Ttz</text>
<line x1="287.00" y1="313.80" x2="287.00" y2="415.50" stroke="#484848" stroke-width="1.15" />
<line x1="419.00" y1="313.80" x2="419.00" y2="415.50" stroke="#484848" stroke-width="1.15" />
<line x1="284.00" y1="415.50" x2="419.00" y2="415.50" stroke="#484848" stroke-width="1.15" />
<line x1="284.00" y1="313.80" x2="287.00" y2="313.80" stroke="#484848" stroke-width="1.15" />
<text x="282.40" y="317.50" font-size="10.5" text-anchor="end" fill="#1c1c1c" stroke="#1c1c1c" stroke-width="0.15" >1.0</text>
<line x1="284.00" y1="364.65" x2="287.00" y2="364.65" stroke="#484848" stroke-width="1.15" />
<text x="282.40" y="368.35" font-size="10.5" text-anchor="end" fill="#1c1c1c" stroke="#1c1c1c" stroke-width="0.15" >0.5</text>
<line x1="284.00" y1="415.50" x2="287.00" y2="415.50" stroke="#484848" stroke-width="1.15" />
<text x="282.40" y="419.20" font-size="10.5" text-anchor="end" fill="#1c1c1c" stroke="#1c1c1c" stroke-width="0.15" >0.0</text>
<line x1="419.00" y1="415.50" x2="422.00" y2="415.50" stroke="#484848" stroke-width="1.15" />
<text x="423.90" y="419.40" font-size="10.5" text-anchor="start" fill="#1c1c1c" stroke="#1c1c1c" stroke-width="0.15" >0</text>
<line x1="419.00" y1="398.55" x2="422.00" y2="398.55" stroke="#484848" stroke-width="1.15" />
<text x="423.90" y="402.45" font-size="10.5" text-anchor="start" fill="#1c1c1c" stroke="#1c1c1c" stroke-width="0.15" >15</text>
<line x1="419.00" y1="381.60" x2="422.00" y2="381.60" stroke="#484848" stroke-width="1.15" />
<text x="423.90" y="385.50" font-size="10.5" text-anchor="start" fill="#1c1c1c" stroke="#1c1c1c" stroke-width="0.15" >30</text>
<line x1="419.00" y1="364.65" x2="422.00" y2="364.65" stroke="#484848" stroke-width="1.15" />
<text x="423.90" y="368.55" font-size="10.5" text-anchor="start" fill="#1c1c1c" stroke="#1c1c1c" stroke-width="0.15" >45</text>
<line x1="419.00" y1="347.70" x2="422.00" y2="347.70" stroke="#484848" stroke-width="1.15" />
<text x="423.90" y="351.60" font-size="10.5" text-anchor="start" fill="#1c1c1c" stroke="#1c1c1c" stroke-width="0.15" >60</text>
<line x1="419.00" y1="330.75" x2="422.00" y2="330.75" stroke="#484848" stroke-width="1.15" />
<text x="423.90" y="334.65" font-size="10.5" text-anchor="start" fill="#1c1c1c" stroke="#1c1c1c" stroke-width="0.15" >75</text>
<line x1="419.00" y1="313.80" x2="422.00" y2="313.80" stroke="#484848" stroke-width="1.15" />
<text x="423.90" y="317.70" font-size="10.5" text-anchor="start" fill="#1c1c1c" stroke="#1c1c1c" stroke-width="0.15" >90</text>
<line x1="287.00" y1="415.50" x2="287.00" y2="419.70" stroke="#484848" stroke-width="1.15" />
<text x="287.30" y="429.60" font-size="10" text-anchor="middle" fill="#1c1c1c" stroke="#1c1c1c" stroke-width="0.15" >-100</text>
<line x1="324.71" y1="415.50" x2="324.71" y2="419.70" stroke="#484848" stroke-width="1.15" />
<text x="324.71" y="429.60" font-size="10" text-anchor="middle" fill="#1c1c1c" stroke="#1c1c1c" stroke-width="0.15" >0</text>
<line x1="362.43" y1="415.50" x2="362.43" y2="419.70" stroke="#484848" stroke-width="1.15" />
<text x="362.43" y="429.60" font-size="10" text-anchor="middle" fill="#1c1c1c" stroke="#1c1c1c" stroke-width="0.15" >100</text>
<line x1="400.14" y1="415.50" x2="400.14" y2="419.70" stroke="#484848" stroke-width="1.15" />
<text x="400.14" y="429.60" font-size="10" text-anchor="middle" fill="#1c1c1c" stroke="#1c1c1c" stroke-width="0.15" >200</text>
<text x="354.00" y="445.20" font-size="12.8" text-anchor="middle" fill="#1c1c1c" stroke="#1c1c1c" stroke-width="0.3" >Distance from tumour (µm)</text>
<text x="263.00" y="365.40" font-size="12.85" text-anchor="middle" fill="#e8323c" stroke="#e8323c" stroke-width="0.3" transform="rotate(-90 263.0 365.4)" >Rel. fluo. intensity</text>
<text x="441.10" y="365.55" font-size="12.8" text-anchor="middle" fill="#1c1c1c" stroke="#1c1c1c" stroke-width="0.3" transform="rotate(90 441.1 365.55)" >Fiber angle</text>
<line x1="324.71" y1="314.00" x2="324.71" y2="415.50" stroke="#ee1c28" stroke-width="1.15" stroke-dasharray="1 1"/>
<path d="M325.10,389.50 L326.04,388.53 L326.99,387.08 L327.93,385.53 L328.87,383.99 L329.81,382.17 L330.76,380.26 L331.70,378.84 L332.67,377.78 L333.63,376.34 L334.60,374.99 L335.57,372.94 L336.53,371.45 L337.50,370.04 L338.48,369.40 L339.47,368.64 L340.45,367.57 L341.43,367.11 L342.42,366.75 L343.40,365.92 L344.37,364.90 L345.33,364.43 L346.30,363.84 L347.27,363.34 L348.23,362.23 L349.20,361.88 L350.24,361.30 L351.29,360.94 L352.33,360.15 L353.37,359.25 L354.41,358.21 L355.46,357.28 L356.50,357.11 L357.54,356.44 L358.59,355.77 L359.63,355.24 L360.67,354.67 L361.71,354.64 L362.76,353.41 L363.80,352.96 L364.84,351.87 L365.89,351.75 L366.93,351.23 L367.97,350.89 L369.01,350.22 L370.06,349.76 L371.10,348.93 L372.14,348.19 L373.19,347.27 L374.23,346.48 L375.27,346.01 L376.31,345.49 L377.36,345.34 L378.40,344.28 L379.44,344.46 L380.49,344.43 L381.53,345.00 L382.57,344.90 L383.61,345.03 L384.66,345.08 L385.70,345.29 L386.74,345.02 L387.79,344.77 L388.83,344.60 L389.87,344.25 L390.91,343.75 L391.96,343.19 L393.00,342.57 L394.04,342.53 L395.09,342.30 L396.13,342.04 L397.17,341.09 L398.21,340.70 L399.26,340.20 L400.30,340.47 L401.27,340.32 L402.23,340.31 L403.20,339.85 L404.17,339.27 L405.13,338.81 L406.10,338.00 L407.14,337.98 L408.19,338.11 L409.23,338.48 L410.27,338.96 L411.31,338.75 L412.36,338.78 L413.40,338.51 L414.33,338.99 L415.27,339.20 L416.20,339.24 L417.13,339.31 L418.07,338.92 L419.00,339.10 L419.00,367.60 L418.07,368.23 L417.13,368.29 L416.20,368.11 L415.27,368.27 L414.33,368.64 L413.40,369.12 L412.43,369.02 L411.47,369.04 L410.50,368.83 L409.53,368.40 L408.57,368.13 L407.60,368.00 L406.56,367.78 L405.51,367.00 L404.47,366.30 L403.43,365.80 L402.39,365.77 L401.34,365.80 L400.30,365.61 L399.26,365.63 L398.21,365.49 L397.17,365.20 L396.13,364.81 L395.09,364.74 L394.04,365.05 L393.00,365.17 L391.96,364.98 L390.91,364.62 L389.87,364.19 L388.83,363.90 L387.79,363.79 L386.74,364.09 L385.70,363.98 L384.66,364.03 L383.61,363.75 L382.57,364.01 L381.53,363.97 L380.49,364.20 L379.44,364.24 L378.40,364.32 L377.43,364.48 L376.47,364.50 L375.50,365.24 L374.53,365.79 L373.57,366.52 L372.60,366.48 L371.62,367.09 L370.63,367.30 L369.65,367.70 L368.67,368.00 L367.68,368.79 L366.70,369.66 L365.66,370.06 L364.61,370.19 L363.57,370.75 L362.53,371.23 L361.49,371.79 L360.44,372.21 L359.40,372.96 L358.36,373.36 L357.31,373.40 L356.27,373.70 L355.23,373.96 L354.19,374.41 L353.14,374.55 L352.10,374.92 L351.06,375.21 L350.01,375.43 L348.97,375.80 L347.93,376.51 L346.89,377.35 L345.84,378.09 L344.80,378.41 L343.76,379.34 L342.71,379.95 L341.67,380.66 L340.63,381.52 L339.59,382.64 L338.54,383.70 L337.50,384.67 L336.53,386.13 L335.57,387.68 L334.60,388.93 L333.63,389.98 L332.67,390.95 L331.70,392.38 L330.76,392.90 L329.81,393.82 L328.87,394.43 L327.93,395.29 L326.99,396.06 L326.04,396.57 L325.10,397.50" fill="#b1afb1" stroke="none" stroke-width="1" stroke-linejoin="round" />
<path d="M325.10,393.90 L326.03,393.08 L326.95,392.48 L327.88,391.79 L328.80,391.23 L329.77,389.80 L330.73,388.54 L331.70,387.19 L332.67,386.05 L333.63,385.01 L334.60,383.89 L335.64,382.80 L336.69,381.46 L337.73,379.95 L338.77,378.58 L339.81,377.30 L340.86,376.19 L341.90,374.84 L342.94,373.85 L343.99,372.94 L345.03,371.84 L346.07,370.79 L347.11,369.57 L348.16,368.66 L349.20,367.69 L350.17,367.63 L351.13,367.42 L352.10,366.95 L353.07,366.68 L354.03,366.29 L355.00,366.10 L355.98,365.58 L356.97,365.14 L357.95,364.62 L358.93,364.18 L359.92,363.89 L360.90,363.43 L361.87,362.88 L362.83,362.31 L363.80,361.88 L364.77,361.47 L365.73,361.32 L366.70,360.94 L367.68,360.45 L368.67,359.72 L369.65,359.24 L370.63,358.85 L371.62,358.54 L372.60,358.29 L373.57,357.71 L374.53,357.12 L375.50,356.24 L376.47,355.51 L377.43,354.94 L378.40,354.34 L379.44,354.34 L380.49,354.18 L381.53,354.25 L382.57,354.34 L383.61,354.20 L384.66,354.19 L385.70,354.32 L386.74,354.25 L387.79,354.36 L388.83,354.01 L389.87,354.18 L390.91,354.01 L391.96,354.06 L393.00,353.69 L394.04,353.49 L395.09,353.53 L396.13,353.54 L397.17,353.58 L398.21,353.60 L399.26,353.82 L400.30,353.78 L401.32,353.24 L402.34,352.55 L403.36,352.08 L404.38,351.23 L405.40,350.60 L406.40,351.16 L407.40,351.58 L408.40,351.86 L409.40,351.95 L410.40,352.26 L411.40,352.70 L412.40,353.30 L413.40,353.65 L414.33,353.53 L415.27,353.47 L416.20,353.70 L417.13,353.88 L418.07,353.60 L419.00,353.30" fill="none" stroke="#111" stroke-width="1.2" stroke-linejoin="round" />
<path d="M287.00,362.20 L287.97,362.21 L288.93,362.30 L289.90,361.15 L290.87,360.22 L291.83,359.42 L292.80,359.62 L293.76,359.99 L294.72,359.69 L295.68,358.75 L296.64,357.87 L297.60,357.13 L298.67,357.49 L299.73,358.12 L300.80,358.08 L301.73,358.88 L302.65,359.73 L303.57,361.27 L304.50,361.48 L305.45,360.11 L306.40,358.70 L307.35,357.29 L308.30,355.02 L309.32,353.17 L310.35,351.98 L311.38,351.82 L312.40,351.03 L313.40,350.02 L314.40,346.90 L315.40,344.38 L316.55,337.52 L317.70,331.52 L318.45,330.85 L319.20,328.71 L320.35,327.98 L321.50,327.30 L322.65,322.75 L323.80,318.97 L324.55,317.27 L325.30,316.03 L326.37,317.33 L327.43,318.40 L328.50,320.06 L329.57,321.00 L330.63,322.21 L331.70,323.24 L332.72,323.74 L333.74,324.79 L334.76,325.73 L335.78,326.28 L336.80,326.32 L337.82,325.73 L338.84,326.09 L339.86,325.60 L340.88,325.62 L341.90,325.24 L342.92,326.12 L343.94,326.69 L344.96,327.17 L345.98,326.91 L347.00,327.99 L348.02,327.35 L349.04,327.20 L350.06,326.25 L351.08,326.38 L352.10,326.62 L352.85,327.91 L353.60,328.67 L354.70,330.03 L355.80,331.29 L356.90,333.09 L358.00,335.20 L359.00,333.89 L360.00,331.23 L360.95,331.99 L361.90,332.25 L362.85,334.15 L363.80,334.29 L364.90,335.18 L366.00,335.74 L367.10,337.48 L368.20,338.85 L369.17,340.72 L370.13,341.97 L371.10,343.35 L372.20,343.54 L373.30,344.18 L374.40,345.13 L375.50,346.12 L376.47,345.94 L377.43,346.17 L378.40,346.06 L379.37,345.07 L380.33,343.88 L381.30,343.25 L382.34,344.15 L383.39,344.36 L384.43,344.31 L385.47,344.26 L386.51,344.75 L387.56,345.00 L388.60,345.59 L389.64,346.60 L390.69,347.45 L391.73,347.91 L392.77,348.01 L393.81,348.60 L394.86,349.04 L395.90,348.77 L396.88,348.73 L397.86,347.89 L398.83,348.60 L399.81,348.37 L400.79,348.97 L401.77,349.14 L402.74,349.18 L403.72,348.98 L404.70,349.05 L405.67,349.29 L406.63,349.00 L407.60,347.85 L408.57,347.38 L409.53,347.13 L410.50,347.98 L411.47,347.62 L412.43,347.79 L413.40,347.08 L414.33,347.84 L415.27,348.39 L416.20,349.04 L417.13,349.58 L418.07,349.93 L419.00,350.00 L419.00,379.30 L417.96,379.65 L416.93,380.30 L415.89,380.11 L414.85,380.15 L413.82,380.06 L412.78,379.84 L411.75,379.53 L410.71,379.41 L409.67,379.21 L408.64,378.89 L407.60,378.95 L406.56,379.19 L405.51,379.24 L404.47,378.68 L403.43,378.72 L402.39,378.55 L401.34,378.37 L400.30,378.14 L399.26,377.92 L398.21,377.36 L397.17,376.90 L396.13,376.87 L395.09,376.87 L394.04,376.78 L393.00,376.05 L391.96,376.09 L390.91,376.25 L389.87,376.30 L388.83,376.67 L387.79,376.41 L386.74,376.19 L385.70,375.81 L384.66,375.57 L383.61,375.30 L382.57,374.89 L381.53,374.19 L380.49,374.43 L379.44,374.31 L378.40,373.59 L377.36,372.79 L376.31,372.22 L375.27,372.31 L374.23,371.99 L373.19,371.36 L372.14,371.09 L371.10,370.33 L370.06,369.91 L369.01,369.20 L367.97,368.61 L366.93,368.07 L365.89,367.04 L364.84,366.74 L363.80,365.87 L362.76,365.22 L361.71,364.17 L360.67,363.44 L359.63,363.26 L358.59,362.77 L357.54,362.06 L356.50,360.95 L355.46,360.65 L354.41,360.38 L353.37,359.85 L352.33,359.85 L351.29,359.85 L350.24,359.74 L349.20,359.02 L348.16,357.63 L347.11,356.82 L346.07,355.92 L345.03,355.63 L343.99,355.68 L342.94,354.96 L341.90,354.84 L340.86,353.71 L339.81,352.76 L338.77,351.65 L337.73,350.02 L336.69,349.07 L335.64,347.62 L334.60,346.45 L333.63,344.65 L332.67,343.24 L331.70,342.28 L330.73,341.24 L329.77,339.57 L328.80,337.40 L327.80,334.69 L326.80,332.04 L325.80,329.40 L324.80,335.09 L323.80,340.31 L322.80,345.81 L321.70,351.83 L320.60,358.53 L319.50,365.63 L318.60,367.50 L317.70,369.49 L316.80,371.47 L315.82,372.26 L314.83,372.59 L313.85,372.48 L312.87,373.20 L311.88,374.09 L310.90,375.50 L309.84,375.59 L308.78,376.30 L307.72,376.11 L306.66,377.05 L305.60,377.24 L304.61,378.24 L303.63,378.67 L302.64,379.13 L301.66,378.87 L300.67,379.36 L299.69,380.06 L298.70,380.40 L297.63,380.26 L296.57,379.62 L295.50,379.47 L294.43,380.13 L293.37,381.01 L292.30,381.54 L291.24,380.43 L290.18,380.12 L289.12,380.36 L288.06,380.11 L287.00,379.60" fill="rgba(218,30,50,0.36)" stroke="none" stroke-width="1" stroke-linejoin="round" />
<path d="M287.00,370.40 L288.03,370.41 L289.07,370.72 L290.10,370.65 L291.13,370.59 L292.17,370.59 L293.20,370.81 L294.22,370.47 L295.23,370.24 L296.25,369.49 L297.27,369.15 L298.28,368.77 L299.30,368.87 L300.32,368.80 L301.33,369.05 L302.35,368.88 L303.37,369.25 L304.38,369.57 L305.40,369.71 L306.43,368.68 L307.47,367.83 L308.50,367.11 L309.53,366.65 L310.57,365.64 L311.60,364.79 L312.62,363.17 L313.64,362.06 L314.66,360.97 L315.68,359.31 L316.70,357.30 L317.73,353.68 L318.75,350.46 L319.77,347.35 L320.80,344.92 L321.80,339.68 L322.80,334.99 L323.80,329.53 L325.10,321.85 L326.20,323.92 L327.30,326.81 L328.40,328.09 L329.50,329.76 L330.60,330.89 L331.70,332.35 L332.67,333.32 L333.63,334.87 L334.60,336.50 L335.57,338.08 L336.53,339.24 L337.50,339.97 L338.48,340.45 L339.47,340.84 L340.45,341.43 L341.43,341.75 L342.42,342.41 L343.40,342.98 L344.37,343.43 L345.33,343.09 L346.30,343.57 L347.27,343.45 L348.23,343.93 L349.20,343.95 L350.10,344.75 L351.00,345.29 L351.90,345.76 L352.80,346.01 L353.73,346.86 L354.65,348.15 L355.57,348.92 L356.50,350.07 L357.60,350.50 L358.70,351.16 L359.80,351.39 L360.90,351.67 L361.87,352.08 L362.83,352.43 L363.80,353.08 L364.77,353.22 L365.73,353.97 L366.70,354.27 L367.68,354.91 L368.67,354.98 L369.65,354.90 L370.63,355.26 L371.62,356.01 L372.60,357.11 L373.57,357.34 L374.53,357.41 L375.50,357.94 L376.47,358.80 L377.43,359.52 L378.40,359.83 L379.37,359.54 L380.33,359.72 L381.30,359.80 L382.27,360.26 L383.23,360.12 L384.20,359.88 L385.18,360.01 L386.17,360.64 L387.15,360.75 L388.13,360.43 L389.12,359.98 L390.10,360.56 L391.07,361.00 L392.03,361.43 L393.00,361.74 L393.97,362.06 L394.93,362.09 L395.90,362.05 L396.88,361.71 L397.87,361.80 L398.85,361.88 L399.83,362.09 L400.82,361.99 L401.80,361.95 L402.77,362.31 L403.73,363.22 L404.70,363.18 L405.67,363.77 L406.63,363.60 L407.60,364.35 L408.57,363.97 L409.53,364.03 L410.50,363.56 L411.47,363.27 L412.43,362.98 L413.40,363.18 L414.33,363.64 L415.27,363.85 L416.20,363.94 L417.13,364.13 L418.07,364.56 L419.00,365.40" fill="none" stroke="#e02b2b" stroke-width="1.1" stroke-linejoin="round" />
<text x="381.00" y="323.80" font-size="13" text-anchor="middle" fill="#1c1c1c" stroke="#1c1c1c" stroke-width="0.3" >ns</text>
<text x="588.60" y="303.10" font-size="15.3" text-anchor="middle" fill="#111" stroke="#111" stroke-width="0.3" >FN IL2+Ttz</text>
<line x1="522.50" y1="313.80" x2="522.50" y2="415.50" stroke="#484848" stroke-width="1.15" />
<line x1="654.50" y1="313.80" x2="654.50" y2="415.50" stroke="#484848" stroke-width="1.15" />
<line x1="519.50" y1="415.50" x2="654.50" y2="415.50" stroke="#484848" stroke-width="1.15" />
<line x1="519.50" y1="313.80" x2="522.50" y2="313.80" stroke="#484848" stroke-width="1.15" />
<text x="517.90" y="317.50" font-size="10.5" text-anchor="end" fill="#1c1c1c" stroke="#1c1c1c" stroke-width="0.15" >1.0</text>
<line x1="519.50" y1="364.65" x2="522.50" y2="364.65" stroke="#484848" stroke-width="1.15" />
<text x="517.90" y="368.35" font-size="10.5" text-anchor="end" fill="#1c1c1c" stroke="#1c1c1c" stroke-width="0.15" >0.5</text>
<line x1="519.50" y1="415.50" x2="522.50" y2="415.50" stroke="#484848" stroke-width="1.15" />
<text x="517.90" y="419.20" font-size="10.5" text-anchor="end" fill="#1c1c1c" stroke="#1c1c1c" stroke-width="0.15" >0.0</text>
<line x1="654.50" y1="415.50" x2="657.50" y2="415.50" stroke="#484848" stroke-width="1.15" />
<text x="659.40" y="419.40" font-size="10.5" text-anchor="start" fill="#1c1c1c" stroke="#1c1c1c" stroke-width="0.15" >0</text>
<line x1="654.50" y1="398.55" x2="657.50" y2="398.55" stroke="#484848" stroke-width="1.15" />
<text x="659.40" y="402.45" font-size="10.5" text-anchor="start" fill="#1c1c1c" stroke="#1c1c1c" stroke-width="0.15" >15</text>
<line x1="654.50" y1="381.60" x2="657.50" y2="381.60" stroke="#484848" stroke-width="1.15" />
<text x="659.40" y="385.50" font-size="10.5" text-anchor="start" fill="#1c1c1c" stroke="#1c1c1c" stroke-width="0.15" >30</text>
<line x1="654.50" y1="364.65" x2="657.50" y2="364.65" stroke="#484848" stroke-width="1.15" />
<text x="659.40" y="368.55" font-size="10.5" text-anchor="start" fill="#1c1c1c" stroke="#1c1c1c" stroke-width="0.15" >45</text>
<line x1="654.50" y1="347.70" x2="657.50" y2="347.70" stroke="#484848" stroke-width="1.15" />
<text x="659.40" y="351.60" font-size="10.5" text-anchor="start" fill="#1c1c1c" stroke="#1c1c1c" stroke-width="0.15" >60</text>
<line x1="654.50" y1="330.75" x2="657.50" y2="330.75" stroke="#484848" stroke-width="1.15" />
<text x="659.40" y="334.65" font-size="10.5" text-anchor="start" fill="#1c1c1c" stroke="#1c1c1c" stroke-width="0.15" >75</text>
<line x1="654.50" y1="313.80" x2="657.50" y2="313.80" stroke="#484848" stroke-width="1.15" />
<text x="659.40" y="317.70" font-size="10.5" text-anchor="start" fill="#1c1c1c" stroke="#1c1c1c" stroke-width="0.15" >90</text>
<line x1="522.50" y1="415.50" x2="522.50" y2="419.70" stroke="#484848" stroke-width="1.15" />
<text x="522.80" y="429.60" font-size="10" text-anchor="middle" fill="#1c1c1c" stroke="#1c1c1c" stroke-width="0.15" >-100</text>
<line x1="560.21" y1="415.50" x2="560.21" y2="419.70" stroke="#484848" stroke-width="1.15" />
<text x="560.21" y="429.60" font-size="10" text-anchor="middle" fill="#1c1c1c" stroke="#1c1c1c" stroke-width="0.15" >0</text>
<line x1="597.93" y1="415.50" x2="597.93" y2="419.70" stroke="#484848" stroke-width="1.15" />
<text x="597.93" y="429.60" font-size="10" text-anchor="middle" fill="#1c1c1c" stroke="#1c1c1c" stroke-width="0.15" >100</text>
<line x1="635.64" y1="415.50" x2="635.64" y2="419.70" stroke="#484848" stroke-width="1.15" />
<text x="635.64" y="429.60" font-size="10" text-anchor="middle" fill="#1c1c1c" stroke="#1c1c1c" stroke-width="0.15" >200</text>
<text x="589.50" y="445.20" font-size="12.8" text-anchor="middle" fill="#1c1c1c" stroke="#1c1c1c" stroke-width="0.3" >Distance from tumour (µm)</text>
<text x="498.50" y="365.40" font-size="12.85" text-anchor="middle" fill="#4a72bd" stroke="#4a72bd" stroke-width="0.3" transform="rotate(-90 498.5 365.4)" >Rel. fluo. intensity</text>
<text x="675.90" y="365.55" font-size="12.8" text-anchor="middle" fill="#1c1c1c" stroke="#1c1c1c" stroke-width="0.3" transform="rotate(90 675.9 365.55)" >Fiber angle</text>
<line x1="560.21" y1="314.00" x2="560.21" y2="415.50" stroke="#ee1c28" stroke-width="1.15" stroke-dasharray="1 1"/>
<path d="M560.40,395.20 L561.42,394.56 L562.44,393.53 L563.47,392.31 L564.49,391.06 L565.51,390.28 L566.53,389.60 L567.56,389.21 L568.58,388.35 L569.60,387.97 L570.58,386.70 L571.56,385.71 L572.53,384.39 L573.51,383.03 L574.49,381.54 L575.47,379.91 L576.44,378.25 L577.42,377.24 L578.40,376.09 L579.37,374.67 L580.33,373.32 L581.30,371.93 L582.27,370.89 L583.23,369.06 L584.20,367.26 L585.24,365.88 L586.29,364.00 L587.33,362.51 L588.37,360.84 L589.41,359.13 L590.46,357.57 L591.50,355.49 L592.54,354.33 L593.59,353.40 L594.63,352.10 L595.67,350.66 L596.71,349.05 L597.76,347.47 L598.80,346.76 L599.84,346.45 L600.89,346.54 L601.93,345.41 L602.97,344.64 L604.01,343.56 L605.06,343.28 L606.10,342.37 L607.14,341.94 L608.19,341.25 L609.23,341.08 L610.27,340.48 L611.31,340.70 L612.36,339.82 L613.40,340.07 L614.44,339.15 L615.49,338.87 L616.53,338.38 L617.57,338.33 L618.61,338.55 L619.66,338.05 L620.70,337.82 L621.74,337.08 L622.79,337.01 L623.83,336.72 L624.87,337.20 L625.91,336.49 L626.96,335.94 L628.00,335.52 L629.04,336.02 L630.09,336.08 L631.13,335.89 L632.17,335.39 L633.21,335.15 L634.26,334.75 L635.30,334.57 L636.34,334.29 L637.39,334.16 L638.43,334.27 L639.47,334.45 L640.51,334.58 L641.56,334.20 L642.60,334.28 L643.59,334.48 L644.58,334.93 L645.58,335.46 L646.57,335.39 L647.56,335.04 L648.55,334.62 L649.54,334.37 L650.53,334.46 L651.52,334.72 L652.52,335.22 L653.51,335.28 L654.50,335.40 L654.50,373.30 L653.51,373.24 L652.52,373.16 L651.52,372.98 L650.53,373.01 L649.54,372.52 L648.55,372.73 L647.56,372.94 L646.57,373.31 L645.58,373.48 L644.58,373.00 L643.59,372.56 L642.60,372.12 L641.62,372.01 L640.65,372.29 L639.67,372.50 L638.70,372.91 L637.73,372.87 L636.75,372.56 L635.77,372.27 L634.80,371.97 L633.83,372.06 L632.85,372.02 L631.88,371.86 L630.90,371.66 L629.88,371.47 L628.86,371.76 L627.84,371.64 L626.82,371.89 L625.80,371.44 L624.78,371.37 L623.76,371.26 L622.74,371.11 L621.72,371.05 L620.70,371.01 L619.68,371.26 L618.66,371.36 L617.64,371.42 L616.62,371.30 L615.60,371.35 L614.58,371.42 L613.56,371.73 L612.54,371.84 L611.52,371.65 L610.50,371.94 L609.46,372.30 L608.41,372.56 L607.37,372.76 L606.33,373.55 L605.29,374.35 L604.24,374.69 L603.20,375.12 L602.16,375.61 L601.11,376.15 L600.07,376.75 L599.03,377.48 L597.99,378.11 L596.94,378.79 L595.90,379.38 L594.92,380.31 L593.94,380.82 L592.97,381.11 L591.99,381.74 L591.01,382.21 L590.03,383.02 L589.06,383.31 L588.08,383.59 L587.10,384.04 L586.13,384.82 L585.17,385.64 L584.20,386.39 L583.23,387.26 L582.27,387.83 L581.30,388.69 L580.33,389.34 L579.37,390.34 L578.40,390.77 L577.42,391.11 L576.44,391.47 L575.47,392.08 L574.49,392.91 L573.51,393.56 L572.53,394.38 L571.56,394.96 L570.58,395.35 L569.60,395.74 L568.58,396.01 L567.56,396.79 L566.53,397.52 L565.51,397.97 L564.49,398.42 L563.47,398.53 L562.44,398.93 L561.42,399.24 L560.40,400.30" fill="#b1afb1" stroke="none" stroke-width="1" stroke-linejoin="round" />
<path d="M560.40,397.40 L561.42,396.64 L562.44,396.08 L563.47,395.04 L564.49,394.53 L565.51,393.70 L566.53,393.05 L567.56,392.23 L568.58,391.57 L569.60,390.80 L570.58,389.63 L571.56,388.66 L572.53,387.61 L573.51,386.92 L574.49,385.87 L575.47,384.96 L576.44,383.79 L577.42,382.73 L578.40,381.82 L579.37,380.93 L580.33,380.06 L581.30,379.09 L582.27,378.01 L583.23,377.07 L584.20,376.25 L585.17,375.33 L586.13,374.46 L587.10,373.37 L588.08,372.44 L589.06,371.41 L590.03,370.73 L591.01,370.05 L591.99,369.32 L592.97,368.39 L593.94,367.71 L594.92,366.90 L595.90,366.03 L596.94,365.02 L597.99,364.06 L599.03,363.30 L600.07,362.51 L601.11,361.86 L602.16,361.00 L603.20,360.17 L604.17,359.52 L605.13,358.69 L606.10,358.14 L607.07,357.19 L608.03,356.71 L609.00,355.67 L610.04,356.03 L611.09,355.90 L612.13,355.96 L613.17,355.97 L614.21,356.28 L615.26,356.67 L616.30,356.90 L617.34,356.85 L618.39,356.45 L619.43,356.17 L620.47,355.74 L621.51,355.90 L622.56,355.83 L623.60,355.97 L624.64,355.77 L625.69,355.76 L626.73,355.52 L627.77,355.34 L628.81,354.95 L629.86,354.52 L630.90,354.31 L631.88,354.14 L632.85,354.14 L633.83,354.12 L634.80,354.19 L635.77,354.40 L636.75,354.10 L637.73,354.08 L638.70,354.10 L639.67,354.10 L640.65,354.21 L641.62,354.29 L642.60,354.36 L643.59,354.43 L644.58,354.36 L645.58,354.51 L646.57,354.54 L647.56,354.52 L648.55,354.29 L649.54,354.08 L650.53,354.02 L651.52,354.37 L652.52,354.38 L653.51,354.40 L654.50,354.30" fill="none" stroke="#111" stroke-width="1.2" stroke-linejoin="round" />
<path d="M522.80,387.60 L523.83,387.33 L524.87,387.57 L525.90,387.20 L526.93,386.68 L527.97,386.72 L529.00,386.68 L530.03,387.26 L531.07,386.58 L532.10,385.77 L533.13,384.82 L534.17,385.28 L535.20,385.30 L536.22,384.16 L537.23,382.37 L538.25,381.27 L539.27,379.81 L540.28,378.22 L541.30,376.91 L542.33,376.38 L543.37,375.30 L544.40,373.52 L545.52,372.56 L546.65,371.90 L547.77,371.34 L548.90,369.65 L549.93,368.86 L550.97,367.65 L552.00,366.41 L553.00,361.95 L554.00,358.34 L555.00,355.22 L556.15,343.30 L557.30,331.75 L558.45,328.75 L559.60,325.80 L560.80,316.29 L561.80,318.30 L562.80,320.54 L563.80,322.43 L564.88,323.27 L565.95,324.06 L567.02,325.35 L568.10,325.92 L569.08,325.87 L570.07,324.92 L571.05,325.27 L572.03,324.13 L573.02,323.97 L574.00,323.16 L575.04,323.95 L576.09,323.75 L577.13,323.65 L578.17,323.13 L579.21,323.61 L580.26,324.05 L581.30,324.01 L582.34,323.91 L583.39,323.82 L584.43,325.16 L585.47,325.78 L586.51,326.49 L587.56,326.08 L588.60,326.62 L589.57,327.25 L590.53,328.03 L591.50,327.68 L592.47,327.65 L593.43,327.82 L594.40,328.23 L595.38,328.98 L596.37,329.16 L597.35,329.79 L598.33,329.98 L599.32,330.64 L600.30,331.22 L601.27,331.96 L602.23,332.37 L603.20,332.69 L604.17,332.31 L605.13,332.83 L606.10,333.34 L607.14,333.85 L608.19,333.63 L609.23,333.24 L610.27,332.70 L611.31,332.50 L612.36,332.59 L613.40,333.47 L614.37,334.18 L615.33,334.58 L616.30,334.68 L617.27,334.99 L618.23,335.05 L619.20,335.34 L620.18,335.14 L621.17,336.38 L622.15,335.96 L623.13,336.25 L624.12,335.68 L625.10,336.69 L626.12,337.48 L627.14,338.06 L628.16,337.51 L629.18,337.31 L630.20,337.66 L631.22,337.78 L632.24,338.54 L633.26,338.91 L634.28,340.07 L635.30,340.05 L636.34,340.12 L637.39,340.48 L638.43,340.33 L639.47,340.31 L640.51,339.70 L641.56,339.92 L642.60,340.77 L643.59,340.92 L644.58,341.72 L645.58,341.46 L646.57,342.49 L647.56,342.69 L648.55,343.19 L649.54,343.34 L650.53,342.75 L651.52,342.48 L652.52,342.14 L653.51,342.75 L654.50,343.40 L654.50,371.90 L653.51,371.80 L652.52,371.89 L651.52,371.01 L650.53,370.85 L649.54,370.69 L648.55,370.56 L647.56,370.37 L646.57,369.50 L645.58,369.96 L644.58,370.47 L643.59,370.64 L642.60,369.89 L641.56,369.26 L640.51,369.10 L639.47,369.22 L638.43,369.02 L637.39,368.50 L636.34,367.98 L635.30,367.76 L634.26,367.81 L633.21,367.29 L632.17,367.10 L631.13,366.73 L630.09,366.58 L629.04,366.64 L628.00,366.37 L626.96,366.46 L625.91,366.19 L624.87,366.23 L623.83,366.39 L622.79,365.69 L621.74,365.72 L620.70,365.58 L619.66,365.26 L618.61,364.36 L617.57,363.60 L616.53,363.31 L615.49,362.85 L614.44,362.72 L613.40,361.89 L612.36,362.33 L611.31,362.06 L610.27,362.52 L609.23,361.79 L608.19,361.37 L607.14,360.74 L606.10,361.04 L605.06,360.68 L604.01,360.73 L602.97,360.57 L601.93,360.07 L600.89,359.52 L599.84,358.50 L598.80,358.50 L597.83,357.83 L596.87,357.75 L595.90,357.27 L594.93,357.20 L593.97,356.24 L593.00,355.95 L592.02,355.40 L591.03,355.58 L590.05,355.29 L589.07,354.92 L588.08,354.08 L587.10,353.74 L586.13,354.02 L585.17,354.60 L584.20,354.25 L583.23,354.23 L582.27,354.11 L581.30,354.29 L580.26,354.30 L579.21,354.06 L578.17,354.08 L577.13,354.06 L576.09,354.41 L575.04,353.92 L574.00,353.34 L572.96,353.27 L571.91,353.77 L570.87,354.28 L569.83,353.76 L568.79,353.34 L567.74,352.95 L566.70,352.98 L565.77,352.47 L564.83,351.69 L563.90,351.34 L562.97,351.09 L562.03,350.47 L561.10,349.66 L560.35,351.84 L559.60,354.32 L558.45,363.07 L557.30,370.94 L556.15,377.10 L555.00,382.73 L554.00,386.92 L553.00,391.04 L552.00,395.76 L550.97,397.94 L549.93,399.80 L548.90,400.88 L547.91,401.09 L546.92,401.30 L545.93,401.83 L544.94,402.00 L543.96,402.24 L542.97,402.31 L541.98,402.21 L540.99,401.71 L540.00,401.88 L538.99,401.90 L537.98,401.69 L536.96,401.99 L535.95,401.57 L534.94,402.06 L533.93,401.56 L532.92,401.63 L531.91,401.76 L530.89,402.05 L529.88,402.13 L528.87,401.68 L527.86,401.59 L526.85,401.91 L525.84,402.19 L524.82,402.30 L523.81,402.03 L522.80,401.30" fill="rgba(62,102,182,0.37)" stroke="none" stroke-width="1" stroke-linejoin="round" />
<path d="M522.80,393.70 L523.79,393.91 L524.77,393.74 L525.76,393.37 L526.75,393.30 L527.74,392.69 L528.73,392.81 L529.71,392.96 L530.70,393.05 L531.70,393.64 L532.70,393.88 L533.70,394.48 L534.72,393.44 L535.73,393.04 L536.75,392.83 L537.77,392.60 L538.78,391.94 L539.80,390.97 L540.72,390.31 L541.64,389.64 L542.56,389.34 L543.48,388.17 L544.40,387.82 L545.40,386.62 L546.40,386.13 L547.40,384.76 L548.40,383.36 L549.40,381.88 L550.40,381.06 L551.43,377.50 L552.47,373.92 L553.50,370.49 L554.50,366.02 L555.50,361.48 L556.50,356.45 L557.65,348.57 L558.80,340.94 L559.55,337.44 L560.30,334.04 L561.10,333.33 L561.90,332.46 L563.00,333.23 L564.10,334.21 L565.20,335.61 L566.30,336.73 L567.40,338.34 L568.50,339.52 L569.60,341.05 L570.70,340.45 L571.80,339.65 L572.90,339.20 L574.00,338.70 L575.04,338.73 L576.09,338.20 L577.13,338.09 L578.17,338.52 L579.21,338.99 L580.26,338.72 L581.30,338.52 L582.34,338.24 L583.39,338.32 L584.43,338.39 L585.47,339.03 L586.51,339.13 L587.56,339.68 L588.60,339.38 L589.64,340.31 L590.69,340.14 L591.73,341.01 L592.77,341.22 L593.81,342.03 L594.86,342.10 L595.90,342.34 L596.87,342.61 L597.83,343.59 L598.80,343.91 L599.77,345.06 L600.73,345.63 L601.70,346.33 L602.74,346.58 L603.79,346.60 L604.83,346.82 L605.87,346.56 L606.91,346.57 L607.96,346.93 L609.00,347.46 L610.04,348.34 L611.09,348.78 L612.13,349.08 L613.17,349.16 L614.21,349.42 L615.26,349.29 L616.30,349.10 L617.34,349.02 L618.39,349.45 L619.43,349.73 L620.47,350.45 L621.51,350.61 L622.56,351.18 L623.60,351.36 L624.64,351.89 L625.69,351.91 L626.73,352.02 L627.77,352.38 L628.81,352.73 L629.86,353.34 L630.90,353.84 L631.94,354.07 L632.99,354.37 L634.03,354.22 L635.07,354.71 L636.11,354.51 L637.16,354.71 L638.20,354.62 L639.24,354.71 L640.29,354.86 L641.33,355.10 L642.37,355.60 L643.41,356.01 L644.46,356.56 L645.50,357.10 L646.50,357.45 L647.50,357.16 L648.50,357.34 L649.50,357.46 L650.50,358.26 L651.50,358.01 L652.50,357.94 L653.50,358.21 L654.50,358.70" fill="none" stroke="#3c62b8" stroke-width="1.1" stroke-linejoin="round" />
<text x="614.30" y="322.00" font-size="13" text-anchor="middle" fill="#1c1c1c" stroke="#1c1c1c" stroke-width="0.3" >ns</text>
<line x1="145.50" y1="496.10" x2="145.50" y2="638.50" stroke="#484848" stroke-width="1.15" />
<line x1="140.40" y1="496.60" x2="145.50" y2="496.60" stroke="#484848" stroke-width="1.15" />
<text x="138.10" y="499.90" font-size="10.5" text-anchor="end" fill="#1c1c1c" stroke="#1c1c1c" stroke-width="0.15" >1.5</text>
<line x1="140.40" y1="543.90" x2="145.50" y2="543.90" stroke="#484848" stroke-width="1.15" />
<text x="138.10" y="547.20" font-size="10.5" text-anchor="end" fill="#1c1c1c" stroke="#1c1c1c" stroke-width="0.15" >1.0</text>
<line x1="140.40" y1="591.20" x2="145.50" y2="591.20" stroke="#484848" stroke-width="1.15" />
<text x="138.10" y="594.50" font-size="10.5" text-anchor="end" fill="#1c1c1c" stroke="#1c1c1c" stroke-width="0.15" >0.5</text>
<line x1="140.40" y1="638.50" x2="145.50" y2="638.50" stroke="#484848" stroke-width="1.15" />
<text x="138.10" y="641.80" font-size="10.5" text-anchor="end" fill="#1c1c1c" stroke="#1c1c1c" stroke-width="0.15" >0.0</text>
<rect x="151.30" y="543.90" width="23.50" height="94.60" fill="#e6e6e6" stroke="none" stroke-width="1.2" />
<rect x="186.80" y="546.26" width="23.80" height="92.24" fill="#e6e6e6" stroke="none" stroke-width="1.2" />
<line x1="145.50" y1="638.50" x2="222.80" y2="638.50" stroke="#484848" stroke-width="1.15" />
<line x1="163.05" y1="638.50" x2="163.05" y2="643.50" stroke="#484848" stroke-width="1.15" />
<line x1="198.70" y1="638.50" x2="198.70" y2="643.50" stroke="#484848" stroke-width="1.15" />
<line x1="198.70" y1="537.28" x2="198.70" y2="550.52" stroke="#555" stroke-width="1.2" />
<line x1="192.90" y1="537.28" x2="204.50" y2="537.28" stroke="#333" stroke-width="1.2" />
<line x1="192.90" y1="550.52" x2="204.50" y2="550.52" stroke="#333" stroke-width="1.2" />
<line x1="151.30" y1="543.90" x2="174.80" y2="543.90" stroke="#222" stroke-width="1.3" />
<line x1="186.80" y1="546.26" x2="210.60" y2="546.26" stroke="#222" stroke-width="1.3" />
<circle cx="158.00" cy="544.09" r="2.6" fill="#111"/>
<circle cx="163.30" cy="543.14" r="2.6" fill="#111"/>
<circle cx="168.20" cy="543.90" r="2.6" fill="#111"/>
<circle cx="198.70" cy="537.28" r="2.8" fill="#e5487f"/>
<circle cx="198.70" cy="546.26" r="2.8" fill="#e5487f"/>
<circle cx="198.70" cy="550.52" r="2.8" fill="#e5487f"/>
<text x="178.90" y="498.30" font-size="13" text-anchor="middle" fill="#1c1c1c" stroke="#1c1c1c" stroke-width="0.3" >ns</text>
<line x1="159.20" y1="502.60" x2="195.00" y2="502.60" stroke="#777" stroke-width="1.6" />
<text x="112.6" y="568.5" font-size="12.6" text-anchor="middle" fill="#1c1c1c" stroke="#1c1c1c" stroke-width="0.3" transform="rotate(-90 112.6 568.5)"><tspan font-style="italic">FN1</tspan> relative expression</text>
<text x="162.60" y="656.80" font-size="10" text-anchor="middle" fill="#1c1c1c" stroke="#1c1c1c" stroke-width="0.15" >CT</text>
<text x="197.70" y="656.80" font-size="10" text-anchor="middle" fill="#1c1c1c" stroke="#1c1c1c" stroke-width="0.15" >IL2+Ttz</text>
<line x1="341.50" y1="497.70" x2="341.50" y2="640.50" stroke="#484848" stroke-width="1.15" />
<line x1="336.40" y1="498.20" x2="341.50" y2="498.20" stroke="#484848" stroke-width="1.15" />
<text x="334.10" y="501.50" font-size="10.5" text-anchor="end" fill="#1c1c1c" stroke="#1c1c1c" stroke-width="0.15" >1.5</text>
<line x1="336.40" y1="545.63" x2="341.50" y2="545.63" stroke="#484848" stroke-width="1.15" />
<text x="334.10" y="548.93" font-size="10.5" text-anchor="end" fill="#1c1c1c" stroke="#1c1c1c" stroke-width="0.15" >1.0</text>
<line x1="336.40" y1="593.07" x2="341.50" y2="593.07" stroke="#484848" stroke-width="1.15" />
<text x="334.10" y="596.37" font-size="10.5" text-anchor="end" fill="#1c1c1c" stroke="#1c1c1c" stroke-width="0.15" >0.5</text>
<line x1="336.40" y1="640.50" x2="341.50" y2="640.50" stroke="#484848" stroke-width="1.15" />
<text x="334.10" y="643.80" font-size="10.5" text-anchor="end" fill="#1c1c1c" stroke="#1c1c1c" stroke-width="0.15" >0.0</text>
<rect x="347.10" y="542.79" width="23.60" height="97.71" fill="#e6e6e6" stroke="none" stroke-width="1.2" />
<rect x="383.20" y="560.34" width="23.70" height="80.16" fill="#e6e6e6" stroke="none" stroke-width="1.2" />
<line x1="341.50" y1="640.50" x2="418.70" y2="640.50" stroke="#484848" stroke-width="1.15" />
<line x1="358.90" y1="640.50" x2="358.90" y2="645.50" stroke="#484848" stroke-width="1.15" />
<line x1="395.05" y1="640.50" x2="395.05" y2="645.50" stroke="#484848" stroke-width="1.15" />
<line x1="395.05" y1="553.70" x2="395.05" y2="568.40" stroke="#555" stroke-width="1.2" />
<line x1="389.25" y1="553.70" x2="400.85" y2="553.70" stroke="#333" stroke-width="1.2" />
<line x1="389.25" y1="568.40" x2="400.85" y2="568.40" stroke="#333" stroke-width="1.2" />
<line x1="353.10" y1="546.58" x2="364.70" y2="546.58" stroke="#333" stroke-width="1.2" />
<line x1="347.10" y1="542.79" x2="370.70" y2="542.79" stroke="#222" stroke-width="1.3" />
<line x1="383.20" y1="560.34" x2="406.90" y2="560.34" stroke="#222" stroke-width="1.3" />
<circle cx="356.30" cy="541.36" r="2.6" fill="#111"/>
<circle cx="361.50" cy="542.31" r="2.6" fill="#111"/>
<circle cx="358.90" cy="547.06" r="2.6" fill="#111"/>
<circle cx="395.05" cy="553.70" r="2.8" fill="#e5487f"/>
<circle cx="395.05" cy="560.34" r="2.8" fill="#e5487f"/>
<circle cx="395.05" cy="568.40" r="2.8" fill="#e5487f"/>
<text x="375.90" y="498.30" font-size="13" text-anchor="middle" fill="#1c1c1c" stroke="#1c1c1c" stroke-width="0.3" >ns</text>
<line x1="356.50" y1="502.60" x2="392.40" y2="502.60" stroke="#777" stroke-width="1.6" />
<text x="305.2" y="569.4" font-size="12.6" text-anchor="middle" fill="#1c1c1c" stroke="#1c1c1c" stroke-width="0.3" transform="rotate(-90 305.2 569.4)"><tspan font-style="italic">COL4A1</tspan>  relative expression</text>
<text x="358.90" y="656.80" font-size="10" text-anchor="middle" fill="#1c1c1c" stroke="#1c1c1c" stroke-width="0.15" >CT</text>
<text x="394.50" y="656.80" font-size="10" text-anchor="middle" fill="#1c1c1c" stroke="#1c1c1c" stroke-width="0.15" >IL2+Ttz</text>
<line x1="523.50" y1="499.10" x2="523.50" y2="638.50" stroke="#484848" stroke-width="1.15" />
<line x1="518.40" y1="499.60" x2="523.50" y2="499.60" stroke="#484848" stroke-width="1.15" />
<text x="516.10" y="501.40" font-size="10.5" text-anchor="end" fill="#1c1c1c" stroke="#1c1c1c" stroke-width="0.15" >1.5</text>
<line x1="518.40" y1="545.90" x2="523.50" y2="545.90" stroke="#484848" stroke-width="1.15" />
<text x="516.10" y="549.20" font-size="10.5" text-anchor="end" fill="#1c1c1c" stroke="#1c1c1c" stroke-width="0.15" >1.0</text>
<line x1="518.40" y1="592.20" x2="523.50" y2="592.20" stroke="#484848" stroke-width="1.15" />
<text x="516.10" y="595.50" font-size="10.5" text-anchor="end" fill="#1c1c1c" stroke="#1c1c1c" stroke-width="0.15" >0.5</text>
<line x1="518.40" y1="638.50" x2="523.50" y2="638.50" stroke="#484848" stroke-width="1.15" />
<text x="516.10" y="641.80" font-size="10.5" text-anchor="end" fill="#1c1c1c" stroke="#1c1c1c" stroke-width="0.15" >0.0</text>
<rect x="529.40" y="548.68" width="23.60" height="89.82" fill="#e6e6e6" stroke="none" stroke-width="1.2" />
<rect x="565.30" y="543.49" width="23.90" height="95.01" fill="#e6e6e6" stroke="none" stroke-width="1.2" />
<line x1="523.50" y1="638.50" x2="601.80" y2="638.50" stroke="#484848" stroke-width="1.15" />
<line x1="541.20" y1="638.50" x2="541.20" y2="643.50" stroke="#484848" stroke-width="1.15" />
<line x1="577.25" y1="638.50" x2="577.25" y2="643.50" stroke="#484848" stroke-width="1.15" />
<line x1="577.25" y1="528.90" x2="577.25" y2="563.40" stroke="#555" stroke-width="1.2" />
<line x1="571.45" y1="528.90" x2="583.05" y2="528.90" stroke="#333" stroke-width="1.2" />
<line x1="571.45" y1="563.40" x2="583.05" y2="563.40" stroke="#333" stroke-width="1.2" />
<line x1="529.40" y1="548.68" x2="553.00" y2="548.68" stroke="#222" stroke-width="1.3" />
<line x1="565.30" y1="543.49" x2="589.20" y2="543.49" stroke="#222" stroke-width="1.3" />
<circle cx="538.30" cy="545.00" r="2.6" fill="#111"/>
<circle cx="538.30" cy="550.72" r="2.6" fill="#111"/>
<circle cx="543.90" cy="548.59" r="2.6" fill="#111"/>
<circle cx="545.20" cy="548.40" r="2.6" fill="#111"/>
<circle cx="577.25" cy="528.90" r="2.8" fill="#e5487f"/>
<circle cx="577.25" cy="543.49" r="2.8" fill="#e5487f"/>
<circle cx="577.25" cy="563.40" r="2.8" fill="#e5487f"/>
<text x="563.10" y="498.30" font-size="13" text-anchor="middle" fill="#1c1c1c" stroke="#1c1c1c" stroke-width="0.3" >ns</text>
<line x1="543.40" y1="502.60" x2="579.00" y2="502.60" stroke="#777" stroke-width="1.6" />
<text x="495.9" y="569.0" font-size="12.9" text-anchor="middle" fill="#1c1c1c" stroke="#1c1c1c" stroke-width="0.3" transform="rotate(-90 495.9 569.0)"><tspan font-style="italic">COL1A</tspan>  relative expression</text>
<text x="541.20" y="656.80" font-size="10" text-anchor="middle" fill="#1c1c1c" stroke="#1c1c1c" stroke-width="0.15" >CT</text>
<text x="577.30" y="656.80" font-size="10" text-anchor="middle" fill="#1c1c1c" stroke="#1c1c1c" stroke-width="0.15" >IL2+Ttz</text>
</svg>
</body></html>
